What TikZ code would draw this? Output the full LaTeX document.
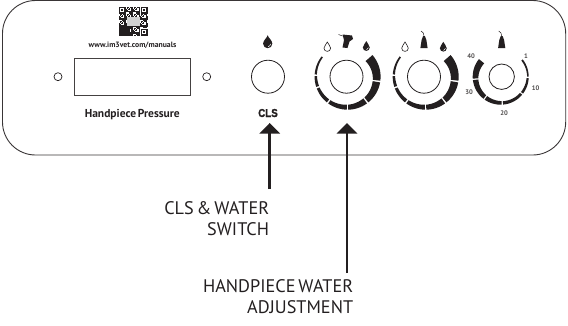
\documentclass[tikz,border=0pt]{standalone}
\usepackage{fontspec}
\setmainfont[WordSpace=0.6,BoldFont={PT Sans Bold}]{PT Sans}
\newfontfamily\clsfont[FakeBold=1.6]{Liberation Sans Bold}
\usetikzlibrary{arrows.meta}
\definecolor{ink}{HTML}{231F20}
\tikzset{
  x=1pt,y=-1pt,
  panel/.style={draw=ink!90,line width=0.9pt,rounded corners=33pt},
  knob/.style={draw=ink,line width=0.8pt,fill=white,circle,minimum size=#1,inner sep=0pt},
  led/.style={draw=ink,line width=0.7pt,circle,minimum size=8pt,inner sep=0pt},
  display/.style={draw=ink!85,line width=0.9pt,rectangle,minimum width=116.5pt,minimum height=37.5pt,inner sep=0pt},
  callout/.style={anchor=base east,inner sep=0pt,text=ink,font=\fontsize{18.2}{20}\selectfont},
  paneltext/.style={inner sep=0pt,text=ink,font=\bfseries\fontsize{#1}{#1}\selectfont},
  scale mark/.style={inner sep=0pt,text=ink!80,font=\bfseries\fontsize{6.6}{7}\selectfont},
  pointer/.style={draw=ink,line width=2.6pt,-{Triangle[width=20pt,length=10.5pt]}},
}
\newcommand{\ringseg}[7]{%
  \fill[ink] plot[domain=#4:#5,samples=9,smooth] ({#1+#3*cos(\x)},{#2-#3*sin(\x)})
    -- plot[domain=#5:#4,samples=9,smooth] ({#1+(#3-#6-(#7-#6)*(\x-(#4))/((#5)-(#4)))*cos(\x)},{#2-(#3-#6-(#7-#6)*(\x-(#4))/((#5)-(#4)))*sin(\x)}) -- cycle;}
\newcommand{\blackdrop}[3]{%
  \begin{scope}[shift={(#1,#2)},scale=#3]
    \fill[ink] (0,-6.5) .. controls (0.8,-3.5) and (4.6,-1.5) .. (4.6,2) .. controls (4.6,4.8) and (2.4,6.5) .. (0,6.5) .. controls (-2.4,6.5) and (-4.6,4.8) .. (-4.6,2) .. controls (-4.6,-1.5) and (-0.8,-3.5) .. (0,-6.5) -- cycle;
    \draw[white,line width=0.5pt] (2.9,2.2) .. controls (2.9,3.6) and (1.8,4.6) .. (0.4,4.9);
  \end{scope}}
\newcommand{\whitedrop}[3]{%
  \begin{scope}[shift={(#1,#2)},scale=#3]
    \draw[ink,line width=0.6pt,fill=white] (0,-6.5) .. controls (0.8,-3.5) and (4.6,-1.5) .. (4.6,2) .. controls (4.6,4.8) and (2.4,6.5) .. (0,6.5) .. controls (-2.4,6.5) and (-4.6,4.8) .. (-4.6,2) .. controls (-4.6,-1.5) and (-0.8,-3.5) .. (0,-6.5) -- cycle;
  \end{scope}}
\newcommand{\tipicon}[2]{%
  \begin{scope}[shift={(#1,#2)}]
    \fill[ink] (-0.9,-4) -- (0.9,-4) -- (2.4,0) -- (3.6,8) -- (-3.6,8) -- (-2.4,0) -- cycle;
    \draw[ink,line width=0.5pt] (0,-4) .. controls (0,-7) and (-1,-7.5) .. (-3,-9);
  \end{scope}}
\newcommand{\zerring}[3]{%
  \ringseg{#1}{#2}{#3}{142}{176}{1.6}{2.2}
  \ringseg{#1}{#2}{#3}{179}{198}{2.4}{3}
  \ringseg{#1}{#2}{#3}{201}{231}{3}{3.8}
  \ringseg{#1}{#2}{#3}{234}{268.5}{3.9}{5}
  \ringseg{#1}{#2}{#3}{271}{306}{5}{6.2}
  \ringseg{#1}{#2}{#3}{309}{350}{6.2}{7.6}
  \ringseg{#1}{#2}{#3}{353}{401}{7.6}{9.2}}
\begin{document}
\begin{tikzpicture}
\useasboundingbox (0,0) rectangle (568,325);
\draw[panel] (2.5,0.5) rectangle (565.7,155);

% QR code
\begin{scope}[shift={(118.5,6.5)}]
  \foreach \i in {0,...,24}{\foreach \j in {0,...,24}{
    \ifodd\numexpr(\i*\i*\i*3+\j*\j*\j*5+\i*\j*11+7*\i)/3\relax
      \fill[ink] (\i*1.18,\j*1.18) rectangle ++(1.2,1.2);\fi}}
  \fill[ink] (0,20) rectangle (11,29);
  \foreach \p/\q in {0/0,22/0,22/22}{
    \fill[white] (\p-0.5,\q-0.5) rectangle ++(8,8);
    \fill[ink] (\p,\q) rectangle ++(7,7);
    \fill[white] (\p+1.1,\q+1.1) rectangle ++(4.8,4.8);
    \fill[ink] (\p+2.2,\q+2.2) rectangle ++(2.6,2.6);}
  \fill[black!18] (8,10) rectangle (21,19);
\end{scope}
\node[paneltext=7.7] (url) at (132.5,45.7) {www.im3vet.com/manuals};

% display
\node[display] (disp) at (132.4,76.7) {};
\node[led] (ledl) at (58,76.7) {};
\node[led] (ledr) at (206.7,76.7) {};
\node[paneltext=11.5,anchor=base] (hp) at (132.3,117) {Handpiece Pressure};

% CLS
\blackdrop{267.7}{41.7}{1}
\node[knob=33pt] (cls) at (268,76.7) {};
\node[inner sep=0pt,text=ink,anchor=base,font=\clsfont\fontsize{11.5}{12}\selectfont,xscale=0.85] (clsl) at (268,117) {CLS};

% knob 1
\zerring{347.6}{76.7}{33}
\node[knob=33pt] (k1) at (346.5,76.7) {};
\whitedrop{327.3}{46.7}{0.72}
\blackdrop{366.3}{46}{0.75}
\fill[ink] (342.5,34.5) -- (352,35.5) -- (353,39) -- (349.5,41.5) -- (347.5,48) -- (342.5,47.5) -- (344,40) -- cycle;
\draw[ink,line width=0.5pt] (342.5,36) -- (338.5,34.5);

% knob 2
\zerring{425.7}{76.7}{33}
\node[knob=33pt] (k2) at (424,76.7) {};
\whitedrop{405}{46.7}{0.72}
\blackdrop{443.3}{46.7}{0.75}
\tipicon{424}{40}

% knob 3
\ringseg{500.7}{76.7}{28}{38}{-0}{1.8}{1.6}
\ringseg{500.7}{76.7}{28}{-3}{-37}{2.1}{2.6}
\ringseg{500.7}{76.7}{28}{-40}{-85}{2.8}{3.4}
\ringseg{500.7}{76.7}{28}{-88}{-125}{3.6}{4.4}
\ringseg{500.7}{76.7}{28}{-128}{-173}{4.5}{5.5}
\ringseg{500.7}{76.7}{28}{-176}{-219}{5.6}{6.8}
\node[knob=25.4pt] (k3) at (501.7,76.7) {};
\tipicon{501.7}{40}
\node[scale mark] (m40) at (471,55.7) {40};
\node[scale mark] (m1) at (526,55.7) {1};
\node[scale mark] (m30) at (469,91.7) {30};
\node[scale mark] (m10) at (535.7,87.7) {10};
\node[scale mark] (m20) at (504,113) {20};

% callouts
\node[callout] (l1a) at (269.3,214) {CLS \& WATER};
\node[callout] (l1b) at (269.3,235) {SWITCH};
\node[callout] (l2a) at (353.3,292) {HANDPIECE WATER};
\node[callout] (l2b) at (353.3,313) {ADJUSTMENT};
\coordinate (t1) at (269.7,189);
\coordinate (h1) at (269.7,123);
\coordinate (t2) at (347,273);
\coordinate (h2) at (347,123);
\draw[pointer] (t1) -- (h1);
\draw[pointer] (t2) -- (h2);
\end{tikzpicture}
\end{document}
